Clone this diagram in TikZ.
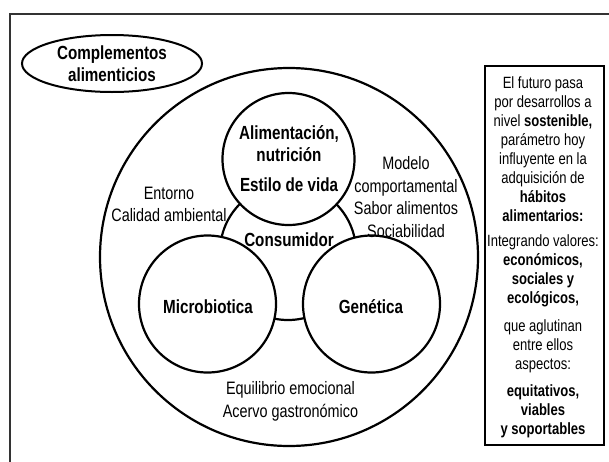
\documentclass[tikz,border=0pt]{standalone}
\usepackage{fontspec}
\setmainfont{Liberation Sans}[FakeStretch=0.8]
\usetikzlibrary{shapes.geometric}
\begin{document}
\begin{tikzpicture}[x=1pt,y=-1pt,
  ring/.style={circle,draw,line width=2.2pt,fill=white,inner sep=0pt,minimum size=#1},
  lbl/.style={align=center,font=\fontsize{18}{22.5}\selectfont,inner sep=0pt},
  blbl/.style={align=center,font=\fontsize{19}{22}\selectfont\bfseries,inner sep=0pt},
  boxtxt/.style={align=center,font=\fontsize{16.3}{19}\selectfont,inner sep=0pt}]
\useasboundingbox (0,0) rectangle (609,461);
\draw[line width=1.8pt, black!80] (10,475) -- (10,14) -- (625,14);
\node[ellipse,draw,line width=2pt,minimum width=180pt,minimum height=57pt,inner sep=0pt,blbl] (comp) at (112,63.5) {Complementos\\alimenticios};
\node[ring=378pt] (world) at (289,257) {};
\node[ring=136pt] (cons) at (288,252) {};
\node[ring=132pt] (alim) at (288.5,159) {};
\node[ring=137pt] (micro) at (207.5,304) {};
\node[ring=137pt] (gen) at (371.5,304) {};
\node[blbl] (alimtxt) at (289,144) {Alimentación,\\nutrición};
\node[blbl] (estilo) at (289,185) {Estilo de vida};
\node[blbl] (constxt) at (289,240) {Consumidor};
\node[blbl] (microtxt) at (208,307) {Microbiotica};
\node[blbl] (gentxt) at (371,307) {Genética};
\node[lbl] (entorno) at (169,204.5) {Entorno\\Calidad ambiental};
\node[lbl] (modelo) at (406,197) {Modelo\\comportamental\\Sabor alimentos\\Sociabilidad};
\node[lbl] (equil) at (290.5,401.5) {Equilibrio emocional\\Acervo gastronómico};
\node[draw,line width=1.8pt,minimum width=119pt,minimum height=379pt,inner sep=0pt] (box) at (544.5,255.5) {};
\node[boxtxt] (g1) at (543,149) {El futuro pasa\\por desarrollos a\\nivel \textbf{sostenible,}\\parámetro hoy\\influyente en la\\adquisición de\\\textbf{hábitos}\\\textbf{alimentarios:}};
\node[boxtxt] (g2) at (543,271) {Integrando valores:\\\textbf{económicos,}\\\textbf{sociales y}\\\textbf{ecológicos,}};
\node[boxtxt] (g3) at (543,346.5) {que aglutinan\\entre ellos\\aspectos:};
\node[boxtxt,font=\fontsize{16.3}{19}\selectfont\bfseries] (g4) at (543,411.5) {equitativos,\\viables\\y soportables};
\end{tikzpicture}
\end{document}
